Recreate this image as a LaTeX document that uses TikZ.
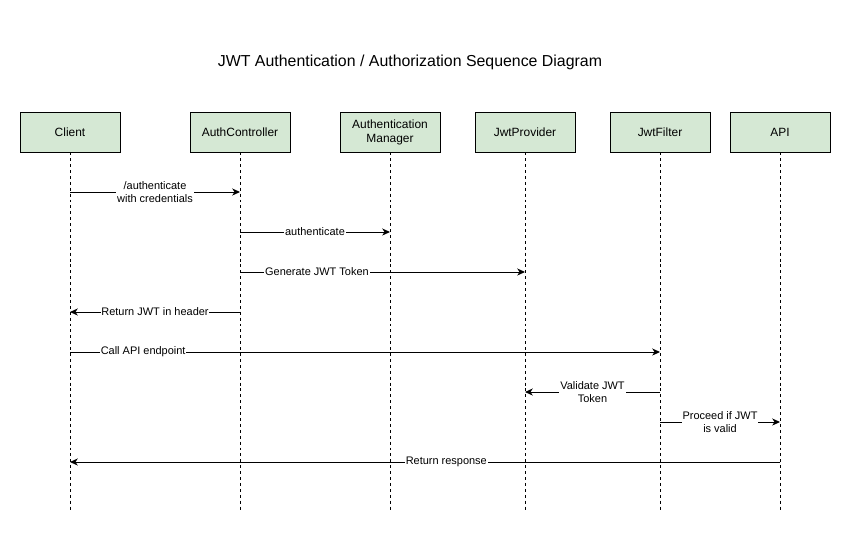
\documentclass[tikz,border=0pt]{standalone}
\usepackage{fontspec}
\setmainfont{Liberation Sans}
\usetikzlibrary{arrows.meta}
\definecolor{boxgreen}{HTML}{D5E8D4}
\begin{document}
\begin{tikzpicture}[
    actor/.style={rectangle, minimum width=2.5cm, minimum height=1cm, text centered, align=center, draw=black, fill=boxgreen, font=\fontsize{8.5}{10}\selectfont},
    lifeline/.style={dash pattern=on 2.1pt off 2.1pt, line width=0.6pt},
    msg/.style={line width=0.7pt,-{Stealth[length=5.5pt,width=5pt,inset=1.6pt]}},
    lbl/.style={fill=white, inner sep=0.6pt, align=center, font=\fontsize{7.8}{9.2}\selectfont}
]
\useasboundingbox (0,0) rectangle (21.25,-13.475);

% Title
\node[font=\fontsize{11.3}{13}\selectfont] (title) at (10.25,-1.55) {JWT Authentication / Authorization Sequence Diagram};

% Participants
\node[actor] (client) at (1.75,-3.3) {Client};
\node[actor] (authctl) at (6,-3.3) {AuthController};
\node[actor] (authmgr) at (9.75,-3.3) {Authentication\\Manager};
\node[actor] (provider) at (13.125,-3.3) {JwtProvider};
\node[actor] (filter) at (16.5,-3.3) {JwtFilter};
\node[actor] (api) at (19.5,-3.3) {API};

% Lifelines
\foreach \p in {client,authctl,authmgr,provider,filter,api} {
    \coordinate (\p-end) at (\p |- 0,-12.75);
    \draw[lifeline] (\p.south) -- (\p-end);
}

% Messages
\draw[msg] (client |- 0,-4.8) -- node[lbl] {/authenticate\\with credentials} (authctl |- 0,-4.8);
\draw[msg] (authctl |- 0,-5.8) -- node[lbl] {authenticate} (authmgr |- 0,-5.8);
\draw[msg] (authctl |- 0,-6.8) -- node[lbl, pos=0.27] {Generate JWT Token} (provider |- 0,-6.8);
\draw[msg] (authctl |- 0,-7.8) -- node[lbl] {Return JWT in header} (client |- 0,-7.8);
\draw[msg] (client |- 0,-8.8) -- node[lbl, pos=0.124] {Call API endpoint} (filter |- 0,-8.8);
\draw[msg] (filter |- 0,-9.8) -- node[lbl] {Validate JWT\\Token} (provider |- 0,-9.8);
\draw[msg] (filter |- 0,-10.55) -- node[lbl] {Proceed if JWT\\is valid} (api |- 0,-10.55);
\draw[msg] (api |- 0,-11.55) -- node[lbl, pos=0.47] {Return response} (client |- 0,-11.55);

\end{tikzpicture}
\end{document}
